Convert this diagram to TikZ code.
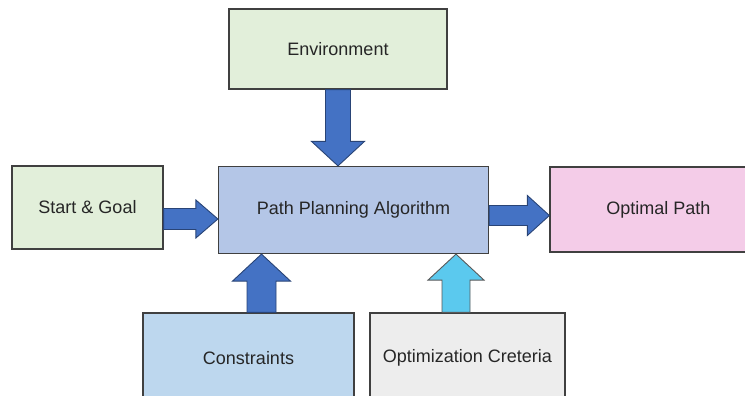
\documentclass[tikz,border=0pt]{standalone}
\usepackage{fontspec}
\setmainfont{Liberation Sans}
\usetikzlibrary{calc}

\definecolor{envgreen}{HTML}{E2EFDA}
\definecolor{algoblue}{HTML}{B4C6E7}
\definecolor{pathpink}{HTML}{F4CCE8}
\definecolor{consblue}{HTML}{BDD7EE}
\definecolor{critgray}{HTML}{EDEDED}
\definecolor{arrowblue}{HTML}{4472C4}
\definecolor{arrowcyan}{HTML}{5BC9EE}
\definecolor{boxline}{HTML}{404040}

% fill style, from, to, shaft half width, head half width, head length
\newcommand{\blockarrow}[6]{%
  \coordinate (hb) at ($(#3)!#6!(#2)$);
  \draw[#1] ($(#2)!#4!90:(#3)$) -- ($(hb)!#4!90:(#3)$) -- ($(hb)!#5!90:(#3)$) -- (#3)
    -- ($(hb)!#5!-90:(#3)$) -- ($(hb)!#4!-90:(#3)$) -- ($(#2)!#4!-90:(#3)$) -- cycle;
}

\begin{document}
\begin{tikzpicture}[
    x=1pt, y=-1pt,
    box/.style={rectangle, draw=boxline, line width=1.2pt, inner sep=0pt, align=center,
      text=black!85, font=\fontsize{18}{22}\selectfont},
    flow/.style={fill=arrowblue, draw=arrowblue!60!black, line width=0.9pt, line join=miter},
    lightflow/.style={fill=arrowcyan, draw=black!65, line width=0.9pt, line join=miter}
]
\clip (0,0) rectangle (745,396);

\node[box, fill=envgreen, minimum width=218pt, minimum height=80pt] (env) at (338,49) {Environment};
\node[box, fill=envgreen, minimum width=151pt, minimum height=83pt] (sg) at (87.5,207.5) {Start \& Goal};
\node[box, fill=algoblue, minimum width=270pt, minimum height=87pt] (ppa) at (353.5,210) {Path Planning Algorithm};
\node[box, fill=pathpink, minimum width=217pt, minimum height=85pt] (opt) at (658.5,209.5) {Optimal Path};
\node[box, fill=consblue, minimum width=211pt, minimum height=90pt] (con) at (248.5,358) {Constraints};
\node[box, fill=critgray, minimum width=195pt, minimum height=90pt] (crit) at (467.5,358) {Optimization Creteria};

\coordinate (envout) at (env.south);
\coordinate (envin) at (envout |- ppa.north);
\coordinate (sgout) at ([yshift=-11.5pt]sg.east);
\coordinate (sgin) at (sgout -| ppa.west);
\coordinate (ppaout) at ([yshift=-5.5pt]ppa.east);
\coordinate (optin) at (ppaout -| opt.west);
\coordinate (conout) at ([xshift=13pt]con.north);
\coordinate (conin) at (conout |- ppa.south);
\coordinate (critout) at ([xshift=-11.5pt]crit.north);
\coordinate (critin) at (critout |- ppa.south);

\blockarrow{flow}{envout}{envin}{12.5pt}{26.5pt}{24.5pt}
\blockarrow{flow}{sgout}{sgin}{10.5pt}{19pt}{22pt}
\blockarrow{flow}{ppaout}{optin}{10pt}{20pt}{22pt}
\blockarrow{flow}{conout}{conin}{14.5pt}{29pt}{27pt}
\blockarrow{lightflow}{critout}{critin}{14pt}{28pt}{26pt}

\end{tikzpicture}
\end{document}
